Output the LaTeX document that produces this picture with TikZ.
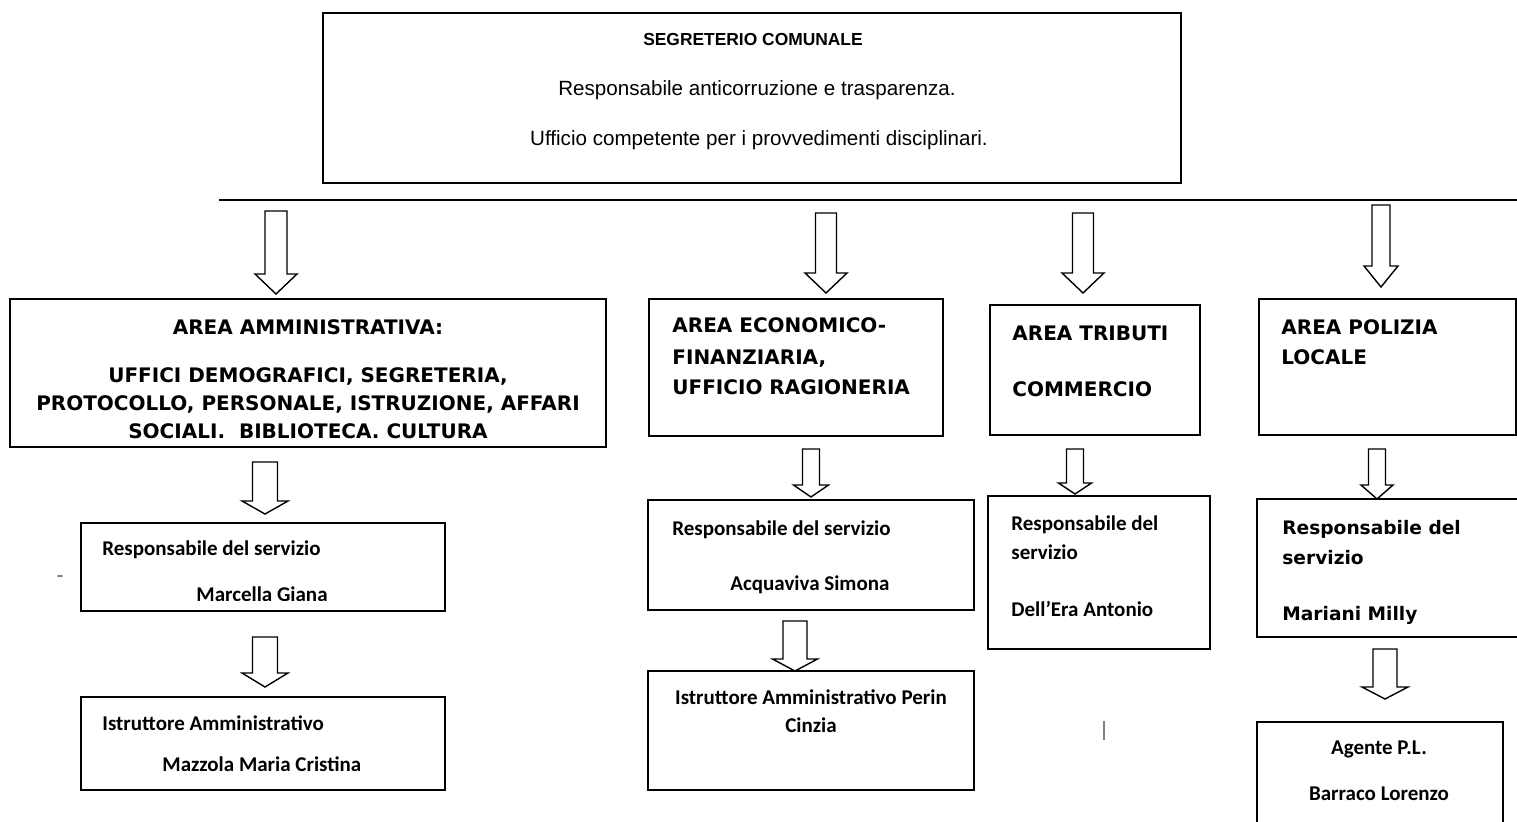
\documentclass[tikz,border=0pt]{standalone}
\usepackage{fontspec}
\usetikzlibrary{fit}
\newfontfamily\verd{DejaVu Sans}
\newfontfamily\cali{Carlito}
\newfontfamily\taho{Liberation Sans}
\newcommand{\blkarrow}[7]{% name, cx, top, headstart, tip, shaft half, head half
  \coordinate (#1) at (#2,#3);
  \draw[arrowline] ({#2-#6},#3) -- ({#2+#6},#3) -- ({#2+#6},#4) -- ({#2+#7},#4) -- (#2,#5) -- ({#2-#7},#4) -- ({#2-#6},#4) -- cycle;}
\tikzset{
  box/.style={draw=black, line width=0.75pt, inner sep=0pt, fill=none},
  arrowline/.style={draw=black, line width=0.7pt, line join=miter, fill=white},
  lw/.style={anchor=base west, inner sep=0pt},
  lc/.style={anchor=base, inner sep=0pt},
  areaf/.style={font=\verd\bfseries\fontsize{10}{12}\selectfont},
  calf/.style={font=\cali\bfseries\fontsize{10.5}{12}\selectfont},
  topf/.style={font=\taho\fontsize{10.3}{12}\selectfont},
  topb/.style={font=\taho\bfseries\fontsize{8.7}{10}\selectfont},
  polf/.style={font=\verd\bfseries\fontsize{9.3}{11}\selectfont},
}
\begin{document}
\begin{tikzpicture}[x=0.5pt,y=-0.5pt]
\useasboundingbox (0,0) rectangle (1517,821);
% boxes
\node[box, fit={(323,13) (1181,183)}] (top) {};
\node[box, fit={(10,299) (606,447)}] (amm) {};
\node[box, fit={(649,299) (943,436)}] (econ) {};
\node[box, fit={(990,305) (1200,435)}] (trib) {};
\node[box, fit={(1259,299) (1516,435)}] (pol) {};
\node[box, fit={(81,523) (445,611)}] (ramm) {};
\node[box, fit={(81,697) (445,790)}] (iamm) {};
\node[box, fit={(648,500) (974,610)}] (recon) {};
\node[box, fit={(648,671) (974,790)}] (iecon) {};
\node[box, fit={(988,496) (1210,649)}] (rtrib) {};
\node[box, fit={(1257,499) (1530,637)}] (rpol) {};
\node[box, fit={(1257,722) (1503,830)}] (ag) {};
% horizontal line
\coordinate (hl1) at (219,200);
\coordinate (hl2) at (1517,200);
\draw[line width=1pt] (hl1) -- (hl2);
% block arrows
\blkarrow{a1}{276}{211}{274}{294}{11}{21}
\blkarrow{a2}{826}{213}{273}{293}{10.5}{21}
\blkarrow{a3}{1083}{213}{273}{293}{10.5}{21}
\blkarrow{a4}{1381}{205}{266}{287}{9}{17}
\blkarrow{s1}{265}{462}{501}{514}{12.5}{23}
\blkarrow{s2}{265}{637}{673}{687}{12.5}{23}
\blkarrow{s3}{811}{449}{485}{497}{8.5}{17.5}
\blkarrow{s4}{795}{621}{659}{671}{12}{22.5}
\blkarrow{s5}{1075}{449}{483}{494}{8.5}{16.5}
\blkarrow{s6}{1377}{449}{485}{499}{8.5}{16}
\blkarrow{s7}{1385}{649}{687}{699}{12}{23}
% top box text
\node[lc, topb] (t1) at (753,45) {SEGRETERIO COMUNALE};
\node[lc, topf] (t2) at (757,95) {Responsabile anticorruzione e trasparenza.};
\node[lc, topf] (t3) at (759,145) {Ufficio competente per i provvedimenti disciplinari.};
% area amministrativa
\node[lc, areaf] (am1) at (308,334) {AREA AMMINISTRATIVA:};
\node[lc, areaf] (am2) at (308,382) {UFFICI DEMOGRAFICI, SEGRETERIA,};
\node[lc, areaf] (am3) at (308,410) {PROTOCOLLO, PERSONALE, ISTRUZIONE, AFFARI};
\node[lc, areaf] (am4) at (308,438) {SOCIALI.\ \ BIBLIOTECA. CULTURA};
% area economico
\node[lw, areaf] (ec1) at (672,332) {AREA ECONOMICO-};
\node[lw, areaf] (ec2) at (672,364) {FINANZIARIA,};
\node[lw, areaf] (ec3) at (672,394) {UFFICIO RAGIONERIA};
% area tributi
\node[lw, areaf] (tr1) at (1012,340) {AREA TRIBUTI};
\node[lw, areaf] (tr2) at (1012,396) {COMMERCIO};
% area polizia
\node[lw, areaf] (po1) at (1281,334) {AREA POLIZIA};
\node[lw, areaf] (po2) at (1281,364) {LOCALE};
% responsabili
\node[lw, calf] (ra1) at (102,555) {Responsabile del servizio};
\begin{scope}
  \clip (90,560) rectangle (440,600);
  \node[lw, calf] (ra2) at (196,601) {Marcella Giana};
\end{scope}
\node[lw, calf] (ia1) at (102,730) {Istruttore Amministrativo};
\node[lw, calf] (ia2) at (162,771) {Mazzola Maria Cristina};
\node[lw, calf] (re1) at (672,535) {Responsabile del servizio};
\node[lw, calf] (re2) at (730,590) {Acquaviva Simona};
\node[lc, calf] (ie1) at (811,704) {Istruttore Amministrativo Perin};
\node[lc, calf] (ie2) at (811,732) {Cinzia};
\node[lw, calf] (rt1) at (1011,530) {Responsabile del};
\node[lw, calf] (rt2) at (1011,559) {servizio};
\node[lw, calf] (rt3) at (1011,616) {Dell’Era Antonio};
\node[lw, polf] (rp1) at (1282,534) {Responsabile del};
\node[lw, polf] (rp2) at (1282,564) {servizio};
\begin{scope}
  \clip (1265,590) rectangle (1510,623);
  \node[lw, polf] (rp3) at (1282,620) {Mariani Milly};
\end{scope}
\node[lc, calf] (ag1) at (1379,754) {Agente P.L.};
\node[lc, calf] (ag2) at (1379,800) {Barraco Lorenzo};
% stray marks
\node[lc, calf, text=gray] (dash) at (60,582) {-};
\draw[gray, line width=0.6pt] (1104,721) -- (1104,740);
\end{tikzpicture}
\end{document}
